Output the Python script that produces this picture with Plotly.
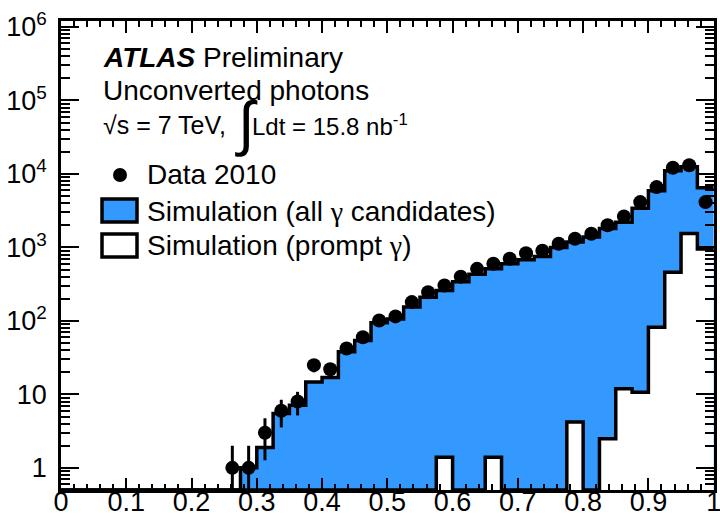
import numpy as np
import plotly.graph_objects as go

# Histogram binning: 40 bins of width 0.025 on [0, 1]
bin_edges = [round(0.025 * i, 4) for i in range(41)]
bin_centers = [round(0.0125 + 0.025 * i, 4) for i in range(40)]

# Observed events per bin (Data 2010)
data_counts = [0, 0, 0, 0, 0, 0, 0, 0, 0, 0,
               1, 1, 3, 6, 8, 25, 22, 42, 60, 101,
               115, 180, 246, 303, 400, 510, 600, 700, 830, 900,
               1120, 1310, 1530, 2000, 2630, 4130, 6610, 12100, 13100, 4130]

# Simulation, all photon candidates (normalised)
sim_all = [0, 0, 0, 0, 0, 0, 0, 0, 0, 0,
           0, 1.0, 1.9, 5.5, 7.1, 14.7, 17, 38, 54, 94,
           106, 155, 210, 260, 340, 430, 510, 600, 680, 750,
           1000, 1180, 1380, 1800, 2200, 3400, 5900, 11000, 12500, 6500]

# Simulation, prompt photons
sim_prompt = [0, 0, 0, 0, 0, 0, 0, 0, 0, 0,
              0, 0, 0, 0, 0, 0, 0, 0, 0, 0,
              0, 0, 0, 1.4, 0, 0, 1.4, 0, 0, 0,
              0, 4.2, 0, 2.5, 11.9, 10.7, 82, 460, 1550, 950]

y_ticks = [1, 10, 100, 1e3, 1e4, 1e5, 1e6]
y_ticktext = ["1", "10", "10<sup>2</sup>", "10<sup>3</sup>", "10<sup>4</sup>",
              "10<sup>5</sup>", "10<sup>6</sup>"]

Y_MIN = 0.5
Y_RANGE = [np.log10(Y_MIN), 6.08]
X_RANGE = [0, 1.0005]
BLUE = "#3399ff"
FONT = "Liberation Sans, Arial, Helvetica, sans-serif"
GAMMA = '<span style="font-family:Liberation Serif">γ</span>'

# Figure geometry (pixels) used for the in-frame legend and labels
W, H = 720, 517
ML, MR, MT, MB = 61, 6, 21, 27
PW, PH = W - ML - MR, H - MT - MB


def fx(px):
    return (px - ML) / PW


def fy(py):
    return (H - MB - py) / PH


def step_xy(values):
    """Outline of a step histogram; empty bins sit on the frame bottom."""
    xs, ys = [], []
    for i, v in enumerate(values):
        v = v if v > 0 else Y_MIN
        xs += [bin_edges[i], bin_edges[i + 1]]
        ys += [v, v]
    return xs, ys


def fill_xy(values):
    xs, ys = step_xy(values)
    return [bin_edges[0]] + xs + [bin_edges[-1]], [0.01] + ys + [0.01]


fig = go.Figure()

# Simulation (all gamma candidates): blue filled histogram
fxa, fya = fill_xy(sim_all)
fig.add_trace(go.Scatter(x=fxa, y=fya, mode="lines", fill="toself",
                         fillcolor=BLUE, line=dict(width=0), hoverinfo="skip",
                         showlegend=False))
sxa, sya = step_xy(sim_all)
fig.add_trace(go.Scatter(x=sxa, y=sya, mode="lines",
                         line=dict(color="black", width=3.5), showlegend=False))

# Simulation (prompt gamma): white filled histogram drawn on top
fxp, fyp = fill_xy(sim_prompt)
fig.add_trace(go.Scatter(x=fxp, y=fyp, mode="lines", fill="toself",
                         fillcolor="white", line=dict(width=0), hoverinfo="skip",
                         showlegend=False))
sxp, syp = step_xy(sim_prompt)
fig.add_trace(go.Scatter(x=sxp, y=syp, mode="lines",
                         line=dict(color="black", width=3.5), showlegend=False))

# Data points with Poisson uncertainties
dx = [c for c, n in zip(bin_centers, data_counts) if n > 0]
dy = [n for n in data_counts if n > 0]
err_up = [np.sqrt(n) for n in dy]
err_dn = [min(np.sqrt(n), n - 0.3) for n in dy]
fig.add_trace(go.Scatter(x=dx, y=dy, mode="markers",
                         marker=dict(color="black", size=14, symbol="circle"),
                         error_y=dict(type="data", array=err_up, arrayminus=err_dn,
                                      color="black", thickness=3, width=0),
                         showlegend=False))

shapes = []
annotations = []


def text(px, py, s, size, anchor="left"):
    annotations.append(dict(x=fx(px), y=fy(py), xref="paper", yref="paper",
                            text=s, showarrow=False, xanchor=anchor,
                            yanchor="middle", font=dict(family=FONT, size=size,
                                                        color="black")))


text(101, 58, "<b><i>ATLAS</i></b> Preliminary", 28)
text(101, 90, "Unconverted photons", 28)
text(101, 125, "√s = 7 TeV,", 25)
text(233, 123, "∫", 60)
text(250, 125, "Ldt = 15.8 nb<sup>-1</sup>", 24)

# In-frame legend
shapes.append(dict(type="circle", xref="paper", yref="paper",
                   x0=fx(113), x1=fx(127), y0=fy(168), y1=fy(182),
                   fillcolor="black", line=dict(color="black", width=0)))
text(145, 175, "Data 2010", 28)
shapes.append(dict(type="rect", xref="paper", yref="paper",
                   x0=fx(102), x1=fx(137), y0=fy(222), y1=fy(199),
                   fillcolor=BLUE, line=dict(color="black", width=3.5)))
text(145, 211, f"Simulation (all {GAMMA} candidates)", 28)
shapes.append(dict(type="rect", xref="paper", yref="paper",
                   x0=fx(102), x1=fx(137), y0=fy(257), y1=fy(234),
                   fillcolor="white", line=dict(color="black", width=3.5)))
text(145, 245, f"Simulation (prompt {GAMMA})", 28)

fig.update_layout(
    width=W, height=H,
    margin=dict(l=ML, r=MR, t=MT, b=MB, pad=0, autoexpand=False),
    paper_bgcolor="white", plot_bgcolor="white",
    font=dict(family=FONT, color="black"),
    shapes=shapes, annotations=annotations,
    xaxis=dict(range=X_RANGE, tickmode="linear", tick0=0, dtick=0.1,
               ticks="inside", ticklen=12, tickwidth=2,
               tickcolor="black", showline=True, linecolor="black", linewidth=2.5,
               mirror="allticks", showgrid=False, zeroline=False, automargin=False,
               ticklabeloverflow="allow",
               tickfont=dict(size=27, family=FONT), ticklabelstandoff=-14,
               minor=dict(ticks="inside", ticklen=6, tickwidth=2,
                          tickcolor="black", dtick=0.02, showgrid=False)),
    yaxis=dict(type="log", range=Y_RANGE, tickmode="array", tickvals=y_ticks,
               ticktext=y_ticktext, ticks="inside", ticklen=18, tickwidth=2,
               tickcolor="black", showline=True, linecolor="black", linewidth=2.5,
               mirror="allticks", showgrid=False, zeroline=False, automargin=False,
               ticklabeloverflow="allow",
               tickfont=dict(size=27, family=FONT), ticklabelstandoff=6,
               minor=dict(ticks="inside", ticklen=9, tickwidth=2,
                          tickcolor="black", dtick="D1", showgrid=False)),
)

fig.write_html("out.html")
